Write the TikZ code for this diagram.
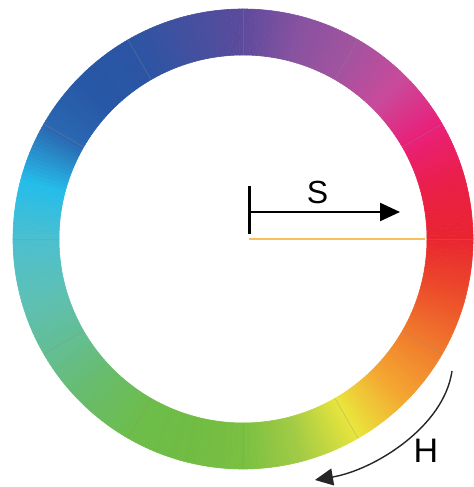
\documentclass[tikz,border=0pt]{standalone}
\usepackage{fontspec}
\setmainfont{Liberation Sans}
\usetikzlibrary{arrows.meta}

% hue stops every 15 degrees, counterclockwise from the right
\definecolor{hue0}{HTML}{E92430}
\definecolor{hue1}{HTML}{EA1E48}
\definecolor{hue2}{HTML}{E9207A}
\definecolor{hue3}{HTML}{C94A9B}
\definecolor{hue4}{HTML}{A2539F}
\definecolor{hue5}{HTML}{8752A0}
\definecolor{hue6}{HTML}{5C4A9C}
\definecolor{hue7}{HTML}{42509F}
\definecolor{hue8}{HTML}{2B55A4}
\definecolor{hue9}{HTML}{2757A6}
\definecolor{hue10}{HTML}{2A68B2}
\definecolor{hue11}{HTML}{25BDEA}
\definecolor{hue12}{HTML}{4CBFCF}
\definecolor{hue13}{HTML}{5DC0B6}
\definecolor{hue14}{HTML}{63BE93}
\definecolor{hue15}{HTML}{68BC6A}
\definecolor{hue16}{HTML}{6DBD4B}
\definecolor{hue17}{HTML}{70BC43}
\definecolor{hue18}{HTML}{7AC042}
\definecolor{hue19}{HTML}{A4CC45}
\definecolor{hue20}{HTML}{EAE53C}
\definecolor{hue21}{HTML}{F4A631}
\definecolor{hue22}{HTML}{F07A2C}
\definecolor{hue23}{HTML}{EC4C2A}
\definecolor{hue24}{HTML}{E92430}
\definecolor{satorange}{HTML}{F7BE5A}

\tikzset{
    ringseg/.style = {line width=0.3pt},
    segline/.style = {draw=black!45, line width=0.4pt, opacity=0.3},
    sarrow/.style = {-{Triangle[length=10pt, width=9pt]}, line width=1.2pt},
    harrow/.style = {-{Triangle[length=9pt, width=8.5pt]}, line width=0.7pt, draw=black!85},
    satline/.style = {draw=satorange, line width=1pt},
    letter/.style = {font=\fontsize{16}{18}\selectfont, inner sep=0pt}
}

\begin{document}
\begin{tikzpicture}[x=0.5pt, y=0.5pt]
    \useasboundingbox (0,0) rectangle (474,487);
    \coordinate (c) at (243,248);

    % colour ring
    \begin{scope}[shift={(c)}]
        \foreach \k in {0,...,23}{
            \pgfmathtruncatemacro\nk{\k+1}
            \foreach \j in {0,...,14}{
                \pgfmathsetmacro\a{15*\k+\j}
                \pgfmathtruncatemacro\m{round(100*\j/15)}
                \colorlet{segc}{hue\nk!\m!hue\k}
                \fill[segc, draw=segc, ringseg] (\a:230) arc[start angle=\a, end angle=\a+1, radius=230]
                    -- (\a+1:184) arc[start angle=\a+1, end angle=\a, radius=184] -- cycle;
            }
        }
        \foreach \b in {0,30,...,330}
            \draw[segline] (\b:184) -- (\b:230);
    \end{scope}

    % saturation
    \coordinate (s0) at (249,248);
    \coordinate (s1) at (425,248);
    \coordinate (t0) at (249,301);
    \coordinate (t1) at (249,253);
    \coordinate (a0) at (249,275);
    \coordinate (a1) at (400,275);
    \draw[satline] (s0) -- (s1);
    \draw[line width=1.5pt] (t0) -- (t1);
    \draw[sarrow] (a0) -- (a1);
    \node[letter] (slabel) at (317.5,294.5) {S};

    % hue
    \coordinate (h0) at (452,116);
    \coordinate (h1) at (315,7);
    \draw[harrow] (h0) .. controls (444,60) and (374,17) .. (h1);
    \node[letter, font=\fontsize{17}{19}\selectfont] (hlabel) at (426,36.5) {H};
\end{tikzpicture}
\end{document}
